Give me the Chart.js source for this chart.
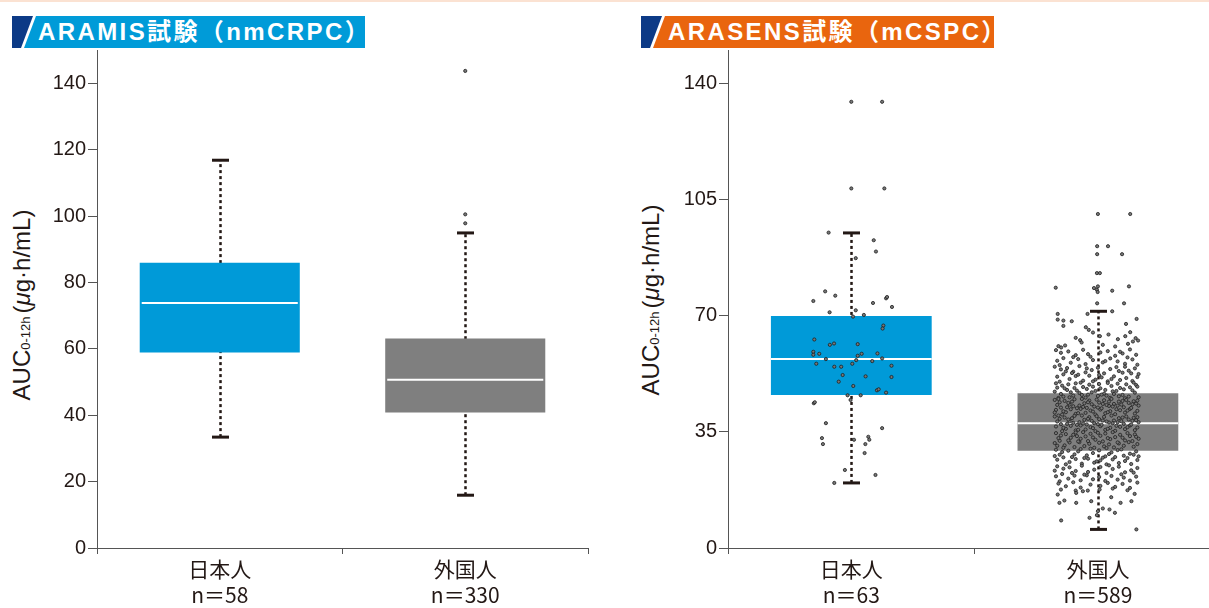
<!DOCTYPE html>
<html>
<head>
<meta charset="utf-8">
<script src="https://cdn.jsdelivr.net/npm/chart.js@4/dist/chart.umd.min.js"></script>
<style>
body { margin: 0; width: 1209px; height: 608px; overflow: hidden; background: #fff; position: relative; font-family: "Liberation Sans", Arial, sans-serif; }
.topline { position: absolute; left: 0; top: 0; width: 1209px; height: 2px; background: #fbe2d2; }
svg.badges { position: absolute; left: 0; top: 0; }
.badge-text { position: absolute; top: 17px; color: #fff; font: bold 24px "Liberation Sans", "Noto Sans CJK JP", sans-serif; letter-spacing: 2.4px; white-space: nowrap; line-height: 30px; }
.ytitle { position: absolute; transform: translate(-50%, -50%) rotate(-90deg); white-space: nowrap; font-size: 24px; color: #231815; font-family: "Liberation Sans", "Noto Sans CJK JP", sans-serif; }
.ytitle .sub { font-size: 13px; margin-right: 3px; }
canvas { position: absolute; top: 0; }
#c1 { left: 0; }
#c2 { left: 600px; }
</style>
</head>
<body>
<div class="topline"></div>
<svg class="badges" width="1209" height="60">
  <polygon points="12,16 33,16 21,48 12,48" fill="#0c3a86"/>
  <polygon points="36,16 365,16 365,48 24,48" fill="#009bd8"/>
  <polygon points="641,16 662,16 650,48 641,48" fill="#0c3a86"/>
  <polygon points="665,16 994,16 994,48 653,48" fill="#e9650e"/>
</svg>
<div class="badge-text" style="left:38px">ARAMIS試験（nmCRPC）</div>
<div class="badge-text" style="left:668px">ARASENS試験（mCSPC）</div>
<div class="ytitle" style="left:22px;top:305px">AUC<span class="sub">0-12h</span>(<i>μ</i>g·h/mL)</div>
<div class="ytitle" style="left:651px;top:300px">AUC<span class="sub">0-12h</span>(<i>μ</i>g·h/mL)</div>
<canvas id="c1" width="600" height="608"></canvas>
<canvas id="c2" width="626" height="608"></canvas>
<script>
const groups = ['日本人', '外国人'];

// ARAMIS (nmCRPC)
const aramisN = ['n＝58', 'n＝330'];
const aramisLow = [33.4, 15.9];
const aramisQ1 = [58.9, 40.8];
const aramisMedian = [73.8, 50.7];
const aramisQ3 = [85.9, 63.1];
const aramisHigh = [116.8, 94.9];
const aramisOutliers = [[1, 143.7], [1, 100.5], [1, 97.8]];

// ARASENS (mCSPC)
const arasensN = ['n＝63', 'n＝589'];
const arasensLow = [19.6, 5.6];
const arasensQ1 = [46.1, 29.3];
const arasensMedian = [56.9, 37.6];
const arasensQ3 = [69.9, 46.6];
const arasensHigh = [94.9, 71.3];

// individual values: [horizontal jitter, AUC]
const arasensJapanPts = [
  [0, 134.4], [.125, 134.4], [0, 108.3], [.134, 108.3], [-.092, 95.0], [.091, 92.7], [.100, 89.3], [.018, 87.3],
  [-.106, 77.3], [-.065, 76.0], [-.154, 74.4], [.088, 73.8], [.141, 75.2], [.145, 75.6], [.165, 72.6], [-.088, 71.0],
  [.018, 71.6], [.007, 69.7], [.051, 70.2], [.130, 67.0], [.127, 66.1], [-.150, 62.8], [-.087, 61.2], [-.070, 61.6],
  [.026, 61.4], [-.154, 59.1], [-.154, 58.2], [-.130, 58.5], [.042, 58.5], [.026, 57.9], [.106, 58.6], [-.103, 56.9],
  [.020, 56.6], [.085, 56.3], [.125, 57.1], [-.142, 55.5], [.004, 55.5], [-.069, 54.6], [-.041, 54.6], [.163, 54.9],
  [-.035, 52.1], [.058, 51.7], [.163, 51.5], [-.051, 50.1], [.008, 48.8], [.104, 47.5], [.111, 47.8], [.141, 46.8],
  [-.015, 46.0], [.038, 46.0], [-.003, 44.6], [-.152, 43.6], [-.148, 43.9], [-.103, 37.6], [.125, 36.1], [-.119, 33.1],
  [-.115, 31.3], [.011, 32.6], [.069, 33.5], [.073, 32.6], [.057, 31.3], [.054, 28.6], [-.026, 23.5], [.098, 22.0],
  [-.069, 19.6]
];

const arasensForeignPts = [
  [0, 100.6], [.131, 100.6], [-.003, 90.9], [.041, 90.9], [-.003, 88.5], [.098, 88.5], [-.004, 82.8], [.008, 82.8],
  [-.171, 78.4], [-.016, 78.3], [-.004, 77.8], [0, 78.8], [-.001, 77.1], [.058, 77.5], [.126, 78.8], [-.003, 73.7],
  [.106, 73.7], [.058, 71.3], [-.042, 70.5], [-.163, 70.5], [.157, 69.0], [-.163, 68.8], [-.140, 68.5], [-.106, 68.3],
  [-.140, 66.9], [.114, 67.5], [-.049, 66.5], [-.037, 65.7], [.131, 65.0], [.008, 63.8], [.043, 64.3], [-.072, 62.6],
  [-.066, 61.9], [.081, 62.9], [.111, 63.8], [.153, 63.2], [.142, 62.2], [.163, 62.5], [.122, 61.5], [-.133, 61.0],
  [-.149, 60.4], [-.160, 60.8], [-.02, 64.9], [.07, 60.7], [-.09, 63.3], [.02, 61.2],
  [-.17, 59.6], [-.15, 58.8], [-.12, 59.2], [-.09, 58.1], [-.06, 59.7], [-.03, 57.6], [.01, 58.9], [.04, 59.3], [.07, 57.9],
  [.10, 58.6], [.13, 59.8], [.155, 58.2], [-.165, 56.4], [-.14, 57.2], [-.11, 55.8], [-.08, 56.9], [-.05, 55.4], [-.02, 56.6],
  [.02, 55.9], [.05, 57.1], [.08, 56.2], [.11, 55.5], [.14, 56.8], [.16, 55.2], [-.155, 55.1], [-.10, 57.5], [-.04, 58.4],
  [.03, 56.3], [.09, 59.1], [.12, 57.4],
  [-.175, 54.6], [-.15, 53.8], [-.125, 54.2], [-.10, 53.1], [-.075, 54.8], [-.05, 52.9], [-.025, 53.6], [0, 54.3], [.025, 52.6],
  [.05, 53.9], [.075, 54.5], [.10, 52.8], [.125, 53.4], [.15, 54.1], [.165, 52.4], [-.165, 51.6], [-.14, 52.3], [-.115, 50.9],
  [-.09, 51.8], [-.06, 50.4], [-.035, 51.9], [-.01, 50.7], [.015, 51.4], [.04, 50.2], [.065, 51.7], [.09, 50.6], [.115, 51.2],
  [.14, 50.3], [.16, 51.5], [-.155, 50.1], [-.13, 53.2], [-.08, 52.2], [-.045, 54.1], [.005, 52.1], [.055, 50.9], [.085, 53.3],
  [.135, 52.6], [-.02, 50.2], [.11, 54.6], [-.105, 52.7],
  [-.17, 49.6], [-.145, 48.9], [-.12, 49.3], [-.095, 48.2], [-.07, 49.8], [-.045, 47.9], [-.02, 48.6], [.005, 49.4], [.03, 47.6],
  [.055, 48.8], [.08, 49.5], [.105, 47.8], [.13, 48.4], [.155, 49.1], [-.175, 47.1], [-.15, 46.4], [-.125, 47.6], [-.10, 45.9],
  [-.075, 46.7], [-.05, 45.3], [-.025, 46.9], [0, 45.8], [.025, 46.5], [.05, 45.2], [.075, 47.3], [.10, 46.1], [.125, 45.6],
  [.15, 46.8], [.165, 45.4], [-.16, 45.2], [-.135, 48.1], [-.11, 46.9], [-.085, 47.4], [-.06, 48.5], [-.035, 49.2], [-.01, 47.3],
  [.015, 46.2], [.04, 49.7], [.065, 46.4], [.09, 48.2], [.115, 49.3], [.14, 47.5], [.16, 48.6], [-.165, 48.3], [-.14, 45.6],
  [-.09, 49.6], [-.04, 46.2], [.01, 48.1], [.06, 47.2], [.11, 45.1], [.145, 49.8], [-.115, 45.4], [.035, 45.9], [.085, 45.7],
  [-.065, 46.1],
  [-.175, 44.6], [-.155, 43.9], [-.135, 44.3], [-.115, 43.2], [-.095, 44.8], [-.075, 42.9], [-.055, 43.6], [-.035, 44.4],
  [-.015, 42.6], [.005, 43.8], [.025, 44.5], [.045, 42.8], [.065, 43.4], [.085, 44.1], [.105, 42.4], [.125, 43.7], [.145, 44.2],
  [.165, 42.9], [-.17, 41.6], [-.15, 42.3], [-.13, 40.9], [-.11, 41.8], [-.09, 40.4], [-.07, 41.9], [-.05, 40.7], [-.03, 41.4],
  [-.01, 40.2], [.01, 41.7], [.03, 40.6], [.05, 41.2], [.07, 40.3], [.09, 41.5], [.11, 40.8], [.13, 41.9], [.15, 40.5], [.16, 41.3],
  [-.165, 43.1], [-.145, 40.2], [-.125, 42.4], [-.105, 44.1], [-.085, 42.1], [-.065, 44.9], [-.045, 42.2], [-.025, 43.3],
  [-.005, 44.7], [.015, 42.1], [.035, 43.1], [.055, 44.9], [.075, 41.8], [.095, 43.2], [.115, 44.6], [.135, 42.2], [.155, 43.5],
  [-.16, 44.9], [-.14, 41.2], [-.12, 43.7], [-.1, 42.7], [-.08, 40.6], [-.06, 42.5], [-.04, 43.9], [-.02, 41.1], [0, 42.3],
  [.02, 43.4], [.04, 40.9], [.06, 42.6], [.08, 42.9], [.1, 44.3], [.12, 41.4], [.14, 43.3], [.16, 44.4], [-.175, 40.8], [.045, 44.1],
  [-.175, 39.6], [-.155, 38.9], [-.135, 39.3], [-.115, 38.2], [-.095, 39.8], [-.075, 37.9], [-.055, 38.6], [-.035, 39.4],
  [-.015, 37.6], [.005, 38.8], [.025, 39.5], [.045, 37.8], [.065, 38.4], [.085, 39.1], [.105, 37.4], [.125, 38.7], [.145, 39.2],
  [.165, 37.9], [-.17, 36.6], [-.15, 37.3], [-.13, 35.9], [-.11, 36.8], [-.09, 35.4], [-.07, 36.9], [-.05, 35.7], [-.03, 36.4],
  [-.01, 35.2], [.01, 36.7], [.03, 35.6], [.05, 36.2], [.07, 35.3], [.09, 36.5], [.11, 35.8], [.13, 36.9], [.15, 35.5], [.16, 36.3],
  [-.165, 38.1], [-.145, 35.2], [-.125, 37.4], [-.105, 39.1], [-.085, 37.1], [-.065, 39.9], [-.045, 37.2], [-.025, 38.3],
  [-.005, 39.7], [.015, 37.1], [.035, 38.1], [.055, 39.9], [.075, 36.8], [.095, 38.2], [.115, 39.6], [.135, 37.2], [.155, 38.5],
  [-.16, 39.9], [-.14, 36.2], [-.12, 38.7], [-.1, 37.7], [-.08, 35.6], [-.06, 37.5], [-.04, 38.9], [-.02, 36.1], [0, 37.3],
  [.02, 38.4], [.04, 35.9], [.06, 37.6], [.08, 37.9], [.1, 39.3], [.12, 36.4], [.14, 38.3], [.16, 39.4],
  [-.17, 34.6], [-.15, 33.9], [-.13, 34.3], [-.11, 33.2], [-.09, 34.8], [-.07, 32.9], [-.05, 33.6], [-.03, 34.4], [-.01, 32.6],
  [.01, 33.8], [.03, 34.5], [.05, 32.8], [.07, 33.4], [.09, 34.1], [.11, 32.4], [.13, 33.7], [.15, 34.2], [.165, 32.9],
  [-.175, 31.6], [-.155, 32.3], [-.135, 30.9], [-.115, 31.8], [-.095, 30.4], [-.075, 31.9], [-.055, 30.7], [-.035, 31.4],
  [-.015, 30.2], [.005, 31.7], [.025, 30.6], [.045, 31.2], [.065, 30.3], [.085, 31.5], [.105, 30.8], [.125, 31.9], [.145, 30.5],
  [.16, 31.3], [-.16, 33.1], [-.14, 30.2], [-.12, 32.4], [-.1, 34.1], [-.08, 32.1], [-.06, 34.9], [-.04, 32.2], [-.02, 33.3],
  [0, 34.7], [.02, 32.1], [.04, 33.1], [.06, 34.9], [.08, 31.8], [.1, 33.2], [.12, 34.6], [.14, 32.2], [.155, 33.5], [-.165, 30.8],
  [.035, 30.1], [-.085, 33.7],
  [-.17, 29.6], [-.145, 28.9], [-.12, 29.3], [-.095, 28.2], [-.07, 29.8], [-.045, 27.9], [-.02, 28.6], [.005, 29.4], [.03, 27.6],
  [.055, 28.8], [.08, 29.5], [.105, 27.8], [.13, 28.4], [.155, 29.1], [-.165, 26.6], [-.14, 27.3], [-.115, 25.9], [-.09, 26.8],
  [-.065, 25.4], [-.04, 26.9], [-.015, 25.7], [.01, 26.4], [.035, 25.2], [.06, 26.7], [.085, 25.6], [.11, 26.2], [.135, 25.3],
  [.16, 26.5], [-.155, 28.1], [-.13, 25.2], [-.105, 27.4], [-.08, 29.1], [-.055, 27.1], [-.03, 29.9], [.02, 27.2], [.045, 28.3],
  [.07, 27.4], [.095, 29.7], [.12, 27.1], [.145, 28.1], [-.175, 27.7], [.165, 27.6], [-.005, 26.1],
  [-.165, 24.6], [-.14, 23.9], [-.115, 24.3], [-.09, 23.2], [-.065, 24.8], [-.04, 22.9], [-.015, 23.6], [.01, 24.4], [.035, 22.6],
  [.06, 23.8], [.085, 24.5], [.11, 22.8], [.135, 23.4], [.16, 24.1], [-.17, 21.6], [-.145, 22.3], [-.12, 20.9], [-.095, 21.8],
  [-.07, 20.4], [-.045, 21.9], [-.02, 20.7], [.005, 21.4], [.03, 20.2], [.055, 21.7], [.08, 20.6], [.105, 21.2], [.13, 20.3],
  [.155, 21.5], [-.155, 20.1], [-.105, 22.6], [-.055, 22.1], [.045, 24.9], [.095, 22.2], [.145, 22.7], [-.175, 23.3],
  [-.16, 19.4], [-.13, 18.6], [-.1, 19.8], [-.07, 18.2], [-.03, 19.1], [.01, 18.7], [.04, 19.6], [.07, 18.4], [.1, 19.3],
  [.13, 18.1], [.16, 19.7], [-.15, 17.6], [-.09, 17.3], [.06, 17.9], [.12, 17.4],
  [-.163, 16.1], [-.156, 13.6], [-.136, 14.3], [-.088, 13.6], [-.027, 14.1], [.054, 15.3], [.092, 13.6], [.136, 14.1],
  [.149, 16.3], [.020, 11.9], [0, 11.1], [.047, 11.6], [.069, 10.6], [-.004, 9.9], [-.034, 9.1], [-.149, 8.3], [.156, 5.6],
  [-.088, 16.6], [-.061, 17.1], [-.041, 17.3], [.007, 17.6]
];

const boxParts = {
  id: 'boxParts',
  beforeDatasetsDraw(chart, args, opts) {
    const ctx = chart.ctx, xs = chart.scales.x2, ys = chart.scales.y;
    ctx.save();
    ctx.strokeStyle = '#231815';
    opts.low.forEach((lo, i) => {
      const cx = Math.round(xs.getPixelForValue(i)) + 0.5;
      ctx.setLineDash([3, 3]);
      ctx.lineWidth = 2.5;
      ctx.beginPath();
      ctx.moveTo(cx, ys.getPixelForValue(lo));
      ctx.lineTo(cx, ys.getPixelForValue(opts.high[i]));
      ctx.stroke();
      ctx.setLineDash([]);
      ctx.lineWidth = 3;
      [lo, opts.high[i]].forEach(v => {
        const py = ys.getPixelForValue(v);
        ctx.beginPath();
        ctx.moveTo(cx - 8.5, py);
        ctx.lineTo(cx + 8.5, py);
        ctx.stroke();
      });
    });
    ctx.restore();
  },
  afterDatasetDraw(chart, args, opts) {
    if (args.meta.type !== 'bar') return;
    const ctx = chart.ctx, ys = chart.scales.y;
    ctx.save();
    ctx.strokeStyle = '#fff';
    ctx.lineWidth = 2;
    args.meta.data.forEach((bar, i) => {
      const py = ys.getPixelForValue(opts.median[i]);
      ctx.beginPath();
      ctx.moveTo(bar.x - bar.width / 2 + opts.inset, py);
      ctx.lineTo(bar.x + bar.width / 2 - opts.inset, py);
      ctx.stroke();
    });
    ctx.restore();
  }
};

function makeChart(id, nLabels, q1, q3, med, low, high, pointSets, yStep, yWidth, padRight, inset) {
  const scatter = [];
  pointSets.forEach((pts, g) => {
    scatter.push({
      type: 'scatter',
      xAxisID: 'x2',
      order: 1,
      data: pts.map(p => ({ x: p[0] + g, y: p[1] })),
      pointRadius: 1.6,
      backgroundColor: '#777',
      borderColor: '#1f1f1f',
      borderWidth: 0.8
    });
  });
  return new Chart(document.getElementById(id), {
    type: 'bar',
    data: {
      labels: groups.map((g, i) => [g, nLabels[i]]),
      datasets: [{
        type: 'bar',
        xAxisID: 'x',
        order: 2,
        data: q1.map((v, i) => [v, q3[i]]),
        backgroundColor: ['#009ad8', '#7f7f7f'],
        grouped: false,
        barPercentage: 0.652,
        categoryPercentage: 1
      }].concat(scatter)
    },
    options: {
      responsive: false,
      animation: false,
      layout: { padding: { top: 50, left: 0, right: padRight, bottom: 0 } },
      plugins: {
        legend: { display: false },
        tooltip: { enabled: false },
        boxParts: { low: low, high: high, median: med, inset: inset }
      },
      scales: {
        x: {
          type: 'category',
          offset: true,
          afterFit: s => { s.height = 60; },
          grid: { display: true, drawOnChartArea: false, drawTicks: true, offset: true, tickLength: 6, color: '#555' },
          border: { color: '#555', width: 1 },
          ticks: { color: '#231815', padding: 2, font: { family: 'Noto Sans CJK JP', size: 21, lineHeight: 1.25 } }
        },
        x2: { type: 'linear', display: false, offset: false, min: -0.5, max: 1.5, grid: { offset: false } },
        y: {
          min: 0,
          max: 150,
          afterFit: s => { s.width = yWidth; },
          afterBuildTicks: s => { s.ticks = s.ticks.filter(t => t.value % yStep === 0); },
          grid: { drawOnChartArea: false, drawTicks: true, tickLength: 9, color: '#555' },
          border: { color: '#555', width: 1 },
          ticks: { stepSize: yStep, color: '#231815', padding: 2, font: { family: 'Liberation Sans', size: 20 } }
        }
      }
    },
    plugins: [boxParts]
  });
}

makeChart('c1', aramisN, aramisQ1, aramisQ3, aramisMedian, aramisLow, aramisHigh,
  [[], aramisOutliers.map(p => [p[0] - 1, p[1]])], 20, 97, 12, 2);
makeChart('c2', arasensN, arasensQ1, arasensQ3, arasensMedian, arasensLow, arasensHigh,
  [arasensJapanPts, arasensForeignPts], 35, 128, 0, 0);
</script>
</body>
</html>
